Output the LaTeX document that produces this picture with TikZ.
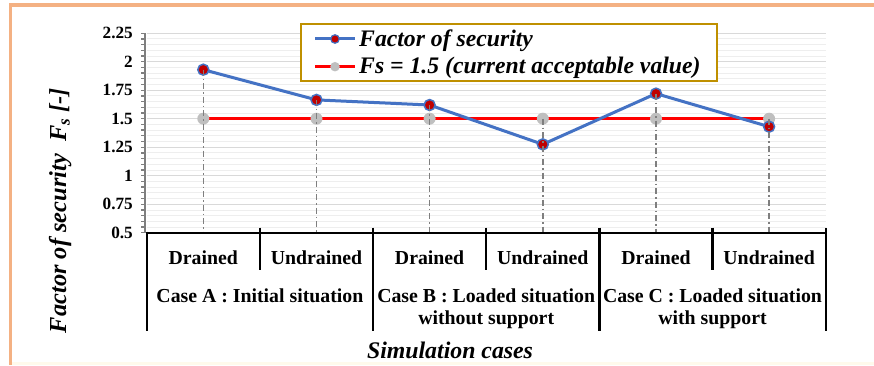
\documentclass[tikz,border=0pt]{standalone}
\usepackage{fontspec}
\setmainfont{Liberation Serif}
\begin{document}
\definecolor{framecol}{HTML}{F4B183}
\definecolor{creamcol}{HTML}{FFFAEC}
\definecolor{fsblue}{HTML}{4472C4}
\definecolor{fsred}{HTML}{C00000}
\definecolor{markgray}{HTML}{BFBFBF}
\definecolor{dropgray}{HTML}{7F7F7F}
\definecolor{gridmajor}{HTML}{D9D9D9}
\definecolor{gridminor}{HTML}{EEEEEE}
\definecolor{legendgold}{HTML}{BF9000}
\begin{tikzpicture}[x=1pt,y=1pt,
  minorgrid/.style={gridminor,line width=0.8pt},
  majorgrid/.style={gridmajor,line width=1pt},
  yaxis/.style={dropgray,line width=2.4pt},
  ytickmark/.style={dropgray,line width=1.3pt},
  ticklabel/.style={font=\fontsize{17.2}{19}\selectfont\bfseries,inner sep=0pt,anchor=east},
  fsline/.style={fsblue,line width=3pt,line join=round},
  limitline/.style={red,line width=3pt},
  fsmark/.style={circle,draw=fsblue,fill=fsred,line width=1.5pt,minimum size=11pt,inner sep=0pt},
  graymark/.style={circle,fill=markgray,minimum size=12pt,inner sep=0pt},
  legfsmark/.style={circle,draw=fsblue,fill=fsred,line width=1.2pt,minimum size=8.5pt,inner sep=0pt},
  leggraymark/.style={circle,fill=markgray,minimum size=9.5pt,inner sep=0pt},
  dropline/.style={dropgray,line width=1.4pt,dash pattern=on 6pt off 3pt on 1.5pt off 3pt},
  catline/.style={black,line width=2.3pt},
  catlabel/.style={font=\fontsize{19.8}{23}\selectfont\bfseries,inner sep=0pt,anchor=base},
  titlelabel/.style={font=\fontsize{23.8}{27}\selectfont\bfseries\itshape,inner sep=0pt,anchor=base},
  legendtext/.style={font=\fontsize{23.7}{27}\selectfont\bfseries\itshape,inner sep=0pt,anchor=base west},
  legendbox/.style={draw=legendgold,line width=2pt,fill=white}
]
\useasboundingbox (0,0) rectangle (874,365);
\fill[white] (0,0) rectangle (874,365);
\fill[creamcol] (12,0) rectangle (874,2.6);
% peach frame (top and left edges)
\draw[framecol,line width=3.5pt] (10.5,0) -- (10.5,360) -- (874,360);

% ---- plotting area: x in pt, y in factor-of-security units
\begin{scope}[y=114pt,yshift=75.3pt]
  \foreach \i in {1,...,35}
    \draw[minorgrid] (146.7,{0.5+\i*0.05}) -- (825.7,{0.5+\i*0.05});
  \foreach \i in {1,...,7}
    \draw[majorgrid] (146.7,{0.5+\i*0.25}) -- (825.7,{0.5+\i*0.25});
  \draw[yaxis] (145,0.5) -- (145,2.25);
  \foreach \i in {0,...,35}
    \draw[ytickmark] (145,{0.5+\i*0.05}) -- (140.5,{0.5+\i*0.05});
  \foreach \v/\t [count=\k] in {0.5/0.5,0.75/0.75,1/1,1.25/1.25,1.5/1.5,1.75/1.75,2/2,2.25/2.25}
    \node[ticklabel] (ytick\k) at (133,\v) {\t};

  % data points, limit points and axis feet
  \foreach \x/\v [count=\k] in {203.3/1.93,316.5/1.665,429.6/1.62,542.8/1.275,656.0/1.72,769.1/1.43} {
    \coordinate (p\k) at (\x,\v);
    \coordinate (g\k) at (\x,1.5);
    \coordinate (b\k) at (\x,0.5);
  }
  \draw[limitline] (g1) -- (g6);
  \foreach \k in {1,...,6}
    \node[graymark] (gm\k) at (g\k) {};
  \draw[fsline] (p1) -- (p2) -- (p3) -- (p4) -- (p5) -- (p6);
  \foreach \k in {1,...,6}
    \node[fsmark] (pm\k) at (p\k) {};
  % drop lines from the higher of the two points down to the axis
  \foreach \k in {1,2,3,5}
    \draw[dropline] (p\k) -- (b\k);
  \foreach \k in {4,6}
    \draw[dropline] (g\k) -- (b\k);
\end{scope}

% ---- category axis
\coordinate (axL) at (146.7,132.3);
\coordinate (axR) at (825.7,132.3);
\draw[catline] (axL) -- (axR);
\draw[catline] (146.7,133.4) -- (146.7,34.3);
\foreach \x in {373.0,599.4,825.7}
  \draw[catline] (\x,137.3) -- (\x,34.3);
\foreach \x in {259.9,486.2,712.5}
  \draw[catline] (\x,137.3) -- (\x,95);

\foreach \x/\t [count=\k] in {203.3/Drained,316.5/Undrained,429.6/Drained,542.8/Undrained,656.0/Drained,769.1/Undrained}
  \node[catlabel] (sub\k) at (\x,100.7) {\t};

\node[catlabel] (caseA) at (259.9,63) {Case A : Initial situation};
\node[catlabel] (caseB) at (486.2,63) {Case B : Loaded situation};
\node[catlabel] (caseBb) at (486.2,41) {without support};
\node[catlabel] (caseC) at (712.5,63) {Case C : Loaded situation};
\node[catlabel] (caseCc) at (712.5,41) {with support};

% ---- axis titles
\node[titlelabel] (xtitle) at (450,7) {Simulation cases};
\node[titlelabel,rotate=90,font=\fontsize{24.4}{27}\selectfont\bfseries\itshape] (ytitle) at (66,154.5)
  {Factor of security\hspace{0.5em}F\textsubscript{s} [-]};

% ---- legend
\draw[legendbox] (300.7,284.3) rectangle (716.7,341);
\coordinate (la1) at (315,326);
\coordinate (lb1) at (355,326);
\coordinate (la2) at (315,298.3);
\coordinate (lb2) at (355,298.3);
\draw[fsblue,line width=3pt] (la1) -- (lb1);
\node[legfsmark] (legm1) at (335,326) {};
\draw[red,line width=3pt] (la2) -- (lb2);
\node[leggraymark] (legm2) at (335,298.3) {};
\node[legendtext] (leg1) at (359,318.3) {Factor of security};
\node[legendtext] (leg2) at (359,291.7) {Fs = 1.5 (current acceptable value)};
\end{tikzpicture}
\end{document}
